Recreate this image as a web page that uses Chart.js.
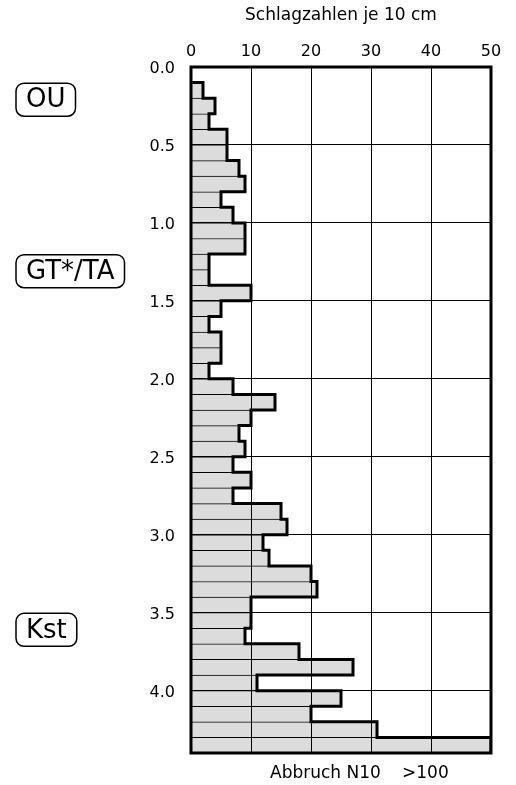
<!DOCTYPE html>
<html>
<head>
<meta charset="utf-8">
<script src="https://cdn.jsdelivr.net/npm/chart.js@4"></script>
<style>
  html, body { margin: 0; padding: 0; background: #fff; }
  #wrap { width: 516px; height: 785px; }
</style>
</head>
<body>
<div id="wrap"><canvas id="chart-ramm"></canvas></div>
<script>
'use strict';

/* ── Data ───────────────────────────────────────────────────── */
// top of each 10 cm interval (m) and blows per 10 cm (N10)
const depthTops = [0.1, 0.2, 0.3, 0.4, 0.5, 0.6, 0.7, 0.8, 0.9, 1.0,
                   1.1, 1.2, 1.3, 1.4, 1.5, 1.6, 1.7, 1.8, 1.9, 2.0,
                   2.1, 2.2, 2.3, 2.4, 2.5, 2.6, 2.7, 2.8, 2.9, 3.0,
                   3.1, 3.2, 3.3, 3.4, 3.5, 3.6, 3.7, 3.8, 3.9, 4.0,
                   4.1, 4.2, 4.3];
const blows = [2, 4, 3, 6, 6, 8, 9, 5, 7, 9,
               9, 3, 3, 10, 5, 3, 5, 5, 3, 7,
               14, 10, 8, 9, 7, 10, 7, 15, 16, 12,
               13, 20, 21, 10, 10, 9, 18, 27, 11, 25,
               20, 31, 50];
const step = 0.1;

// soil layer labels and the depth they are written at
const layerNames = ['OU', 'GT*/TA', 'Kst'];
const layerDepths = [0.21, 1.31, 3.61];

const xTitle = 'Schlagzahlen je 10 cm';
const stopText = ['Abbruch N10', '>100'];

const FONT = 'DejaVu Sans';

/* ── Derived series ─────────────────────────────────────────── */
const barData = depthTops.map((d, i) => ({ x: blows[i], y: +(d + step / 2).toFixed(2) }));

const outline = [{ x: 0, y: depthTops[0] }];
depthTops.forEach((d, i) => {
    outline.push({ x: blows[i], y: d });
    outline.push({ x: blows[i], y: +(d + step).toFixed(2) });
});

/* ── Extra drawing: frame, layer boxes, stop note ───────────── */
const extras = {
    id: 'extras',
    afterDraw(chart) {
        const { ctx, chartArea: a } = chart;
        const yScale = chart.scales.y;
        ctx.save();

        ctx.strokeStyle = '#000';
        ctx.lineWidth = 3;
        ctx.strokeRect(a.left, a.top, a.right - a.left, a.bottom - a.top);

        ctx.font = `26px "${FONT}"`;
        ctx.textBaseline = 'middle';
        ctx.textAlign = 'left';
        ctx.lineWidth = 1.5;
        layerNames.forEach((name, i) => {
            const cy = yScale.getPixelForValue(layerDepths[i]);
            const w = ctx.measureText(name).width + 20;
            const h = 33;
            ctx.beginPath();
            ctx.roundRect(16, cy - h / 2, w, h, 8);
            ctx.stroke();
            ctx.fillStyle = '#000';
            ctx.fillText(name, 26, cy + 1);
        });

        ctx.font = `17px "${FONT}"`;
        ctx.fillText(stopText[0], 270, a.bottom + 21);
        ctx.fillText(stopText[1], 402, a.bottom + 21);
        ctx.restore();
    }
};

/* ── Chart ──────────────────────────────────────────────────── */
const config = {
    type: 'bar',
    data: {
        datasets: [
            {
                type: 'line',
                data: outline,
                borderColor: '#000',
                borderWidth: 3,
                pointRadius: 0,
                tension: 0,
                borderJoinStyle: 'miter',
                fill: false,
                order: 0
            },
            {
                data: barData,
                backgroundColor: '#dcdcdc',
                borderColor: '#000',
                borderWidth: { top: 1, bottom: 0, left: 0, right: 0 },
                borderSkipped: false,
                barPercentage: 1,
                categoryPercentage: 1,
                order: 1
            }
        ]
    },
    options: {
        indexAxis: 'y',
        responsive: true, maintainAspectRatio: false,
        animation: false,
        layout: { padding: { left: 0, right: 25, top: 0, bottom: 32 } },
        scales: {
            x: {
                type: 'linear', position: 'top', min: 0, max: 50,
                ticks: { stepSize: 10, color: '#000', font: { family: FONT, size: 16 }, padding: 6 },
                grid: { color: '#000', lineWidth: 1, drawTicks: false, z: 1 },
                border: { display: false },
                title: { display: true, text: xTitle, color: '#000', font: { family: FONT, size: 17 }, padding: { top: 5, bottom: 0 } },
                afterFit: s => { s.height = 67; }
            },
            y: {
                type: 'linear', reverse: true, min: 0, max: 4.4,
                offset: false,
                ticks: { stepSize: 0.5, includeBounds: false, color: '#000', font: { family: FONT, size: 16 }, padding: 16, labelOffset: 2, callback: v => v.toFixed(1) },
                grid: { color: '#000', lineWidth: 1, drawTicks: false, offset: false, z: 1 },
                border: { display: false },
                afterFit: s => { s.width = 191; }
            }
        },
        plugins: {
            legend: { display: false },
            tooltip: { enabled: false }
        }
    },
    plugins: [extras]
};

new Chart(document.getElementById('chart-ramm'), config);
</script>
</body>
</html>
